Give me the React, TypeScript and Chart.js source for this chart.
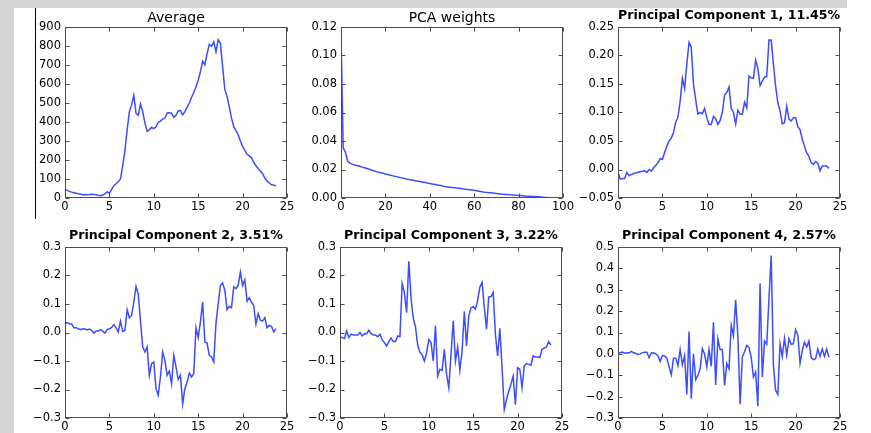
import React, { useEffect, useRef } from "react";
import { Chart, registerables } from "chart.js";

Chart.register(...registerables);

// ---------- data ----------
const TIME = [
  0, 0.25, 0.5, 0.75, 1, 1.25, 1.5, 1.75, 2, 2.25, 2.5, 2.75, 3, 3.25, 3.5, 3.75,
  4, 4.25, 4.5, 4.75, 5, 5.25, 5.5, 5.75, 6, 6.25, 6.5, 6.75, 7, 7.25, 7.5, 7.75,
  8, 8.25, 8.5, 8.75, 9, 9.25, 9.5, 9.75, 10, 10.25, 10.5, 10.75, 11, 11.25, 11.5, 11.75,
  12, 12.25, 12.5, 12.75, 13, 13.25, 13.5, 13.75, 14, 14.25, 14.5, 14.75, 15, 15.25, 15.5, 15.75,
  16, 16.25, 16.5, 16.75, 17, 17.25, 17.5, 17.75, 18, 18.25, 18.5, 18.75, 19, 19.25, 19.5, 19.75,
  20, 20.25, 20.5, 20.75, 21, 21.25, 21.5, 21.75, 22, 22.25, 22.5, 22.75, 23, 23.25, 23.5, 23.75,
];

const COMPONENT_INDEX = [
  0, 1, 2, 3, 4, 5, 6, 7, 8, 9, 10, 11, 12, 13, 14, 15, 16, 17, 18, 19,
  20, 21, 22, 23, 24, 25, 26, 27, 28, 29, 30, 31, 32, 33, 34, 35, 36, 37, 38, 39,
  40, 41, 42, 43, 44, 45, 46, 47, 48, 49, 50, 51, 52, 53, 54, 55, 56, 57, 58, 59,
  60, 61, 62, 63, 64, 65, 66, 67, 68, 69, 70, 71, 72, 73, 74, 75, 76, 77, 78, 79,
  80, 81, 82, 83, 84, 85, 86, 87, 88, 89, 90, 91, 92, 93, 94, 95,
];

const AVERAGE = [
  45, 40, 35, 31, 28, 25, 22, 20, 17, 18,
  17, 18, 20, 19, 17, 14, 12, 16, 22, 32,
  25, 45, 65, 75, 85, 100, 170, 250, 360, 455,
  490, 540, 445, 435, 495, 455, 395, 350, 360, 372,
  365, 375, 398, 405, 415, 420, 447, 448, 446, 425,
  435, 458, 460, 438, 455, 478, 500, 530, 555, 585,
  620, 665, 720, 700, 760, 808, 798, 822, 770, 833,
  815, 690, 570, 535, 480, 420, 377, 355, 333, 300,
  272, 250, 230, 222, 212, 188, 170, 155, 142, 128,
  105, 90, 80, 70, 68, 65,
];

const PCA_WEIGHTS = [
  0.1145, 0.0351, 0.0322, 0.0257, 0.0245, 0.0238, 0.0232, 0.0228, 0.0224, 0.022,
  0.0215, 0.021, 0.0205, 0.02, 0.0195, 0.019, 0.0185, 0.0181, 0.0177, 0.0173,
  0.0169, 0.0165, 0.0161, 0.0157, 0.0153, 0.015, 0.0146, 0.0143, 0.0139, 0.0136,
  0.0132, 0.0129, 0.0126, 0.0123, 0.012, 0.0117, 0.0114, 0.0111, 0.0108, 0.0105,
  0.0102, 0.0099, 0.0096, 0.0093, 0.009, 0.0087, 0.0083, 0.008, 0.0078, 0.0076,
  0.0074, 0.0072, 0.007, 0.0068, 0.0066, 0.0064, 0.0062, 0.006, 0.0058, 0.0056,
  0.0054, 0.0051, 0.0048, 0.0045, 0.0042, 0.004, 0.0039, 0.0037, 0.0036, 0.0034,
  0.0032, 0.003, 0.0028, 0.0027, 0.0025, 0.0024, 0.0022, 0.0021, 0.002, 0.0019,
  0.0018, 0.0017, 0.0016, 0.0014, 0.0013, 0.0012, 0.0011, 0.001, 0.0009, 0.0008,
  0.0007, 0.0006, 0.0004, 0.0003, 0.0002, 0.0001,
];

const PC1 = [
  -0.005, -0.017, -0.016, -0.016, -0.005, -0.011, -0.009, -0.007, -0.006, -0.005,
  -0.004, -0.003, -0.002, -0.005, 0.0, -0.003, 0.003, 0.007, 0.012, 0.019,
  0.018, 0.03, 0.041, 0.05, 0.055, 0.065, 0.083, 0.092, 0.12, 0.16,
  0.142, 0.185, 0.223, 0.215, 0.15, 0.122, 0.097, 0.1, 0.098, 0.107,
  0.091, 0.079, 0.079, 0.093, 0.089, 0.079, 0.086, 0.1, 0.131, 0.135,
  0.145, 0.107, 0.1, 0.08, 0.104, 0.097, 0.097, 0.118, 0.108, 0.164,
  0.161, 0.16, 0.192, 0.178, 0.147, 0.155, 0.162, 0.163, 0.227, 0.227,
  0.185, 0.146, 0.117, 0.103, 0.08, 0.082, 0.111, 0.089, 0.085, 0.091,
  0.091, 0.075, 0.07, 0.053, 0.041, 0.029, 0.023, 0.012, 0.009, 0.014,
  0.011, -0.002, 0.006, 0.006, 0.006, 0.002,
];

const PC2 = [
  0.03, 0.035, 0.03, 0.03, 0.017, 0.017, 0.013, 0.01, 0.013, 0.012,
  0.009, 0.012, 0.008, -0.002, 0.005, 0.005, 0.01, 0.005, -0.002, 0.01,
  0.013, 0.018, 0.027, 0.017, 0.002, 0.04, 0.004, 0.008, 0.08, 0.052,
  0.06, 0.107, 0.162, 0.135, 0.04, -0.051, -0.068, -0.051, -0.15, -0.109,
  -0.104, -0.197, -0.22, -0.156, -0.068, -0.098, -0.15, -0.135, -0.18, -0.08,
  -0.121, -0.165, -0.15, -0.25, -0.197, -0.174, -0.142, -0.156, -0.144, 0.017,
  -0.018, 0.037, 0.107, -0.033, -0.037, -0.08, -0.086, -0.104, 0.031, 0.101,
  0.165, 0.174, 0.148, 0.08, 0.092, 0.087, 0.16, 0.154, 0.165, 0.212,
  0.165, 0.185, 0.11, 0.122, 0.107, 0.095, 0.029, 0.066, 0.043, 0.04,
  0.052, 0.017, 0.025, 0.022, 0.002, 0.013,
];

const PC3 = [
  -0.015, -0.018, -0.021, 0.006, -0.018, -0.006, -0.009, -0.009, -0.009, 0.0,
  -0.012, -0.004, -0.004, 0.008, -0.004, -0.009, -0.009, -0.015, -0.006, -0.026,
  -0.035, -0.047, -0.032, -0.02, -0.032, -0.032, -0.012, -0.015, 0.172, 0.14,
  0.07, 0.25, 0.12, 0.05, 0.02, -0.045, -0.07, -0.078, -0.1, -0.071,
  -0.024, -0.035, -0.1, 0.024, -0.153, -0.129, -0.133, -0.059, -0.147, -0.194,
  -0.076, 0.041, -0.1, -0.051, -0.133, -0.065, 0.074, -0.047, 0.059, 0.086,
  0.091, 0.082, 0.112, 0.159, 0.176, 0.088, 0.012, 0.124, 0.126, 0.141,
  -0.006, -0.082, 0.015, -0.124, -0.27, -0.235, -0.206, -0.182, -0.153, -0.253,
  -0.124, -0.129, -0.194, -0.118, -0.109, -0.112, -0.115, -0.082, -0.086, -0.086,
  -0.088, -0.059, -0.055, -0.051, -0.032, -0.044,
];

const PC4 = [
  0.005, 0.005, 0.008, 0.003, 0.005, 0.004, 0.012, 0.005, 0.003, -0.003,
  0.0, 0.006, 0.008, 0.008, -0.018, 0.004, 0.005, 0.0, -0.01, -0.035,
  -0.007, -0.01, -0.02, -0.06, -0.098, -0.02, -0.02, -0.055, 0.02, -0.05,
  -0.007, -0.19, 0.105, -0.21, 0.0, -0.12, -0.1, -0.07, 0.025, 0.0,
  -0.06, 0.02, -0.058, 0.148, -0.145, 0.07, 0.02, 0.02, -0.148, -0.045,
  -0.07, 0.133, 0.085, 0.253, 0.08, -0.235, -0.015, 0.01, 0.04, 0.03,
  -0.015, -0.108, -0.085, -0.245, 0.33, -0.108, 0.06, 0.045, 0.258, 0.46,
  -0.055, -0.17, -0.19, 0.047, -0.012, 0.073, -0.007, 0.07, 0.045, 0.047,
  0.113, 0.087, -0.044, 0.016, 0.055, 0.032, 0.06, -0.018, -0.027, -0.023,
  0.023, -0.012, 0.023, -0.012, 0.023, -0.015,
];

// ---------- tick labels ----------
const TIME_TICKS = [0, 5, 10, 15, 20, 25];
const INDEX_TICKS = [0, 20, 40, 60, 80, 100];
const AVERAGE_TICKS = [0, 100, 200, 300, 400, 500, 600, 700, 800, 900];
const WEIGHT_TICKS = [0, 0.02, 0.04, 0.06, 0.08, 0.1, 0.12];
const PC1_TICKS = [-0.05, 0, 0.05, 0.1, 0.15, 0.2, 0.25];
const PC23_TICKS = [-0.3, -0.2, -0.1, 0, 0.1, 0.2, 0.3];
const PC4_TICKS = [-0.3, -0.2, -0.1, 0, 0.1, 0.2, 0.3, 0.4, 0.5];

// ---------- styling / layout ----------
const FONT = "'DejaVu Sans', 'Liberation Sans', sans-serif";
const LINE_COLOR = "#3b4dff";
const FRAME_COLOR = "#4d4d4d";
const GREY = "#d4d4d4";
const PLOT_W = 222;
const PLOT_H = 171;
const Y_AXIS_W = 55;
const TITLE_H = 27;
const X_AXIS_H = 20;
const PAD_R = 14;
const CANVAS_W = Y_AXIS_W + PLOT_W + PAD_R;
const CANVAS_H = TITLE_H + PLOT_H + X_AXIS_H;

type Panel = {
  title: string;
  bold: boolean;
  xs: number[];
  ys: number[];
  xTicks: number[];
  yTicks: number[];
  xDec: number;
  yDec: number;
  left: number;
  top: number;
};

const PANELS: Panel[] = [
  { title: "Average", bold: false, xs: TIME, ys: AVERAGE, xTicks: TIME_TICKS, yTicks: AVERAGE_TICKS, xDec: 0, yDec: 0, left: 65, top: 27 },
  { title: "PCA weights", bold: false, xs: COMPONENT_INDEX, ys: PCA_WEIGHTS, xTicks: INDEX_TICKS, yTicks: WEIGHT_TICKS, xDec: 0, yDec: 2, left: 341, top: 27 },
  { title: "Principal Component 1, 11.45%", bold: true, xs: TIME, ys: PC1, xTicks: TIME_TICKS, yTicks: PC1_TICKS, xDec: 0, yDec: 2, left: 618, top: 27 },
  { title: "Principal Component 2, 3.51%", bold: true, xs: TIME, ys: PC2, xTicks: TIME_TICKS, yTicks: PC23_TICKS, xDec: 0, yDec: 1, left: 65, top: 247 },
  { title: "Principal Component 3, 3.22%", bold: true, xs: TIME, ys: PC3, xTicks: TIME_TICKS, yTicks: PC23_TICKS, xDec: 0, yDec: 1, left: 340, top: 247 },
  { title: "Principal Component 4, 2.57%", bold: true, xs: TIME, ys: PC4, xTicks: TIME_TICKS, yTicks: PC4_TICKS, xDec: 0, yDec: 1, left: 618, top: 247 },
];

const fmt = (v: number, d: number) => {
  const s = Math.abs(v).toFixed(d);
  return v < -1e-9 ? "\u2212" + s : s;
};

const framePlugin = {
  id: "mplFrame",
  afterDraw(chart: any) {
    const { ctx, chartArea: a, scales } = chart;
    ctx.save();
    ctx.strokeStyle = FRAME_COLOR;
    ctx.lineWidth = 1;
    const L = Math.round(a.left) + 0.5;
    const R = Math.round(a.right) - 0.5;
    const T = Math.round(a.top) + 0.5;
    const B = Math.round(a.bottom) - 0.5;
    ctx.strokeRect(L, T, R - L, B - T);
    ctx.beginPath();
    for (const t of scales.x.ticks) {
      const px = Math.round(scales.x.getPixelForValue(t.value)) + 0.5;
      ctx.moveTo(px, B);
      ctx.lineTo(px, B - 4);
      ctx.moveTo(px, T);
      ctx.lineTo(px, T + 4);
    }
    for (const t of scales.y.ticks) {
      const py = Math.round(scales.y.getPixelForValue(t.value)) + 0.5;
      ctx.moveTo(L, py);
      ctx.lineTo(L + 4, py);
      ctx.moveTo(R, py);
      ctx.lineTo(R - 4, py);
    }
    ctx.stroke();
    ctx.restore();
  },
};

function PanelChart({ p }: { p: Panel }) {
  const ref = useRef<HTMLCanvasElement>(null);
  useEffect(() => {
    if (!ref.current) return;
    const titleSize = p.bold ? 12.6 : 14;
    const titleBottom = p.bold ? 4 : 0.6;
    const titleTop = TITLE_H - titleSize * 1.2 - titleBottom;
    const tickFont = { family: FONT, size: 11.5 };
    const chart = new Chart(ref.current, {
      type: "line",
      data: {
        datasets: [
          {
            data: p.xs.map((x, i) => ({ x, y: p.ys[i] })),
            borderColor: LINE_COLOR,
            borderWidth: 1.5,
            pointRadius: 0,
            tension: 0,
            fill: false,
          },
        ],
      },
      options: {
        animation: false,
        responsive: false,
        events: [],
        layout: { padding: { left: 0, right: PAD_R, top: 0, bottom: 0 } },
        plugins: {
          legend: { display: false },
          tooltip: { enabled: false },
          title: {
            display: true,
            text: p.title,
            fullSize: false,
            color: "#000",
            font: { family: FONT, size: titleSize, weight: p.bold ? "bold" : "normal" },
            padding: { top: titleTop, bottom: titleBottom },
          },
        },
        scales: {
          x: {
            type: "linear",
            min: p.xTicks[0],
            max: p.xTicks[p.xTicks.length - 1],
            grid: { display: false, drawTicks: false },
            border: { display: false },
            ticks: {
              color: "#000",
              font: tickFont,
              padding: 2,
              maxRotation: 0,
              autoSkip: false,
              callback: (v: any) => fmt(Number(v), p.xDec),
            },
            afterBuildTicks: (s: any) => {
              s.ticks = p.xTicks.map((v) => ({ value: v }));
            },
            afterFit: (s: any) => {
              s.height = X_AXIS_H;
            },
          },
          y: {
            type: "linear",
            min: p.yTicks[0],
            max: p.yTicks[p.yTicks.length - 1],
            grid: { display: false, drawTicks: false },
            border: { display: false },
            ticks: {
              color: "#000",
              font: tickFont,
              padding: 4,
              autoSkip: false,
              callback: (v: any) => fmt(Number(v), p.yDec),
            },
            afterBuildTicks: (s: any) => {
              s.ticks = p.yTicks.map((v) => ({ value: v }));
            },
            afterFit: (s: any) => {
              s.width = Y_AXIS_W;
            },
          },
        },
      } as any,
      plugins: [framePlugin],
    });
    return () => chart.destroy();
  }, [p]);
  return (
    <canvas
      ref={ref}
      width={CANVAS_W}
      height={CANVAS_H}
      style={{
        position: "absolute",
        left: p.left - Y_AXIS_W,
        top: p.top - TITLE_H,
        width: CANVAS_W,
        height: CANVAS_H,
      }}
    />
  );
}

export default function App() {
  return (
    <div
      style={{
        position: "fixed",
        left: 0,
        top: 0,
        width: 871,
        height: 433,
        background: "#ffffff",
        overflow: "hidden",
      }}
    >
      <div style={{ position: "absolute", left: 0, top: 0, width: 847, height: 8, background: GREY }} />
      <div style={{ position: "absolute", left: 0, top: 0, width: 14, height: 433, background: GREY }} />
      <div style={{ position: "absolute", left: 35, top: 8, width: 1, height: 211, background: "#000" }} />
      {PANELS.map((p, i) => (
        <PanelChart key={i} p={p} />
      ))}
    </div>
  );
}
